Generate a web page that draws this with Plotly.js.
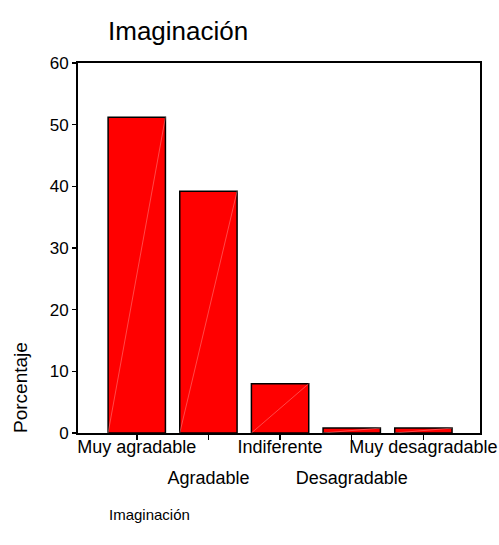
<!DOCTYPE html>
<html>
<head>
<meta charset="utf-8">
<script src="https://cdn.plot.ly/plotly-3.0.1.min.js"></script>
<style>html,body{margin:0;padding:0;background:#fff;}#chart{width:499px;height:545px;}</style>
</head>
<body>
<div id="chart"></div>
<script>
const categories = ["Muy agradable", "Agradable", "Indiferente", "Desagradable", "Muy desagradable"];
const porcentaje = [51.2, 39.2, 8.0, 0.8, 0.8];
const yTicks = [0, 10, 20, 30, 40, 50, 60];

const FONT = "Liberation Sans, Arial, sans-serif";
const idx = categories.map((c, i) => i);
const barW = 0.8;

const traces = [{
  type: "bar",
  x: idx,
  y: porcentaje,
  width: barW,
  marker: {color: "#ff0000", line: {color: "#000000", width: 1.5}},
  hoverinfo: "skip",
  showlegend: false
}];
// faint diagonal highlight inside each bar
idx.forEach((i) => {
  traces.push({
    type: "scatter", mode: "lines",
    x: [i - barW / 2, i + barW / 2],
    y: [0, porcentaje[i]],
    line: {color: "rgba(255,180,180,0.8)", width: 0.5},
    hoverinfo: "skip", showlegend: false
  });
});
// invisible trace to activate second x axis
traces.push({type: "scatter", mode: "markers", x: [0], y: [0], xaxis: "x2",
  marker: {opacity: 0}, hoverinfo: "skip", showlegend: false});

const row2 = idx.filter(i => i % 2 === 1);
const xr = [-0.82, 4.79];

const layout = {
  width: 499, height: 545,
  margin: {l: 78, r: 19, t: 63, b: 112},
  paper_bgcolor: "#ffffff", plot_bgcolor: "#ffffff",
  font: {family: FONT, color: "#000"},
  title: {text: "Imaginación", font: {size: 26, family: FONT, color: "#000"},
    x: 108 / 499, xanchor: "left", xref: "container",
    y: 1 - 31 / 545, yanchor: "middle", yref: "container"},
  xaxis: {
    range: xr, tickmode: "array",
    tickvals: idx,
    ticktext: idx.map(i => i % 2 === 0 ? categories[i] : ""),
    ticks: "outside", ticklen: 5, tickwidth: 1.5, tickcolor: "#000",
    showline: true, linecolor: "#000", linewidth: 2, mirror: true,
    showgrid: false, zeroline: false,
    ticklabelstandoff: -9,
    tickfont: {size: 18, family: FONT, color: "#000"},
    fixedrange: true
  },
  xaxis2: {
    overlaying: "x", anchor: "y", side: "bottom", range: xr,
    tickmode: "array", tickvals: row2, ticktext: row2.map(i => categories[i]),
    ticks: "", showline: false, showgrid: false, zeroline: false,
    ticklabelstandoff: 32,
    tickfont: {size: 18, family: FONT, color: "#000"}
  },
  yaxis: {
    range: [0, 60], tickmode: "array", tickvals: yTicks,
    ticks: "outside", ticklen: 4, tickwidth: 1.5, tickcolor: "#000",
    showline: true, linecolor: "#000", linewidth: 2, mirror: true,
    showgrid: false, zeroline: false,
    tickfont: {size: 17, family: FONT, color: "#000"},
    fixedrange: true
  },
  annotations: [
    {text: "Porcentaje", textangle: -90, xref: "paper", yref: "paper",
     x: -58 / 402, y: (433 - 387) / 370, xanchor: "center", yanchor: "middle",
     showarrow: false, font: {size: 19, family: FONT, color: "#000"}},
    {text: "Imaginación", xref: "paper", yref: "paper",
     x: (107 - 78) / 402, y: -(514 - 433) / 370, xanchor: "left", yanchor: "middle",
     showarrow: false, font: {size: 15, family: FONT, color: "#000"}}
  ]
};

Plotly.newPlot("chart", traces, layout, {staticPlot: true, displayModeBar: false});
</script>
</body>
</html>
